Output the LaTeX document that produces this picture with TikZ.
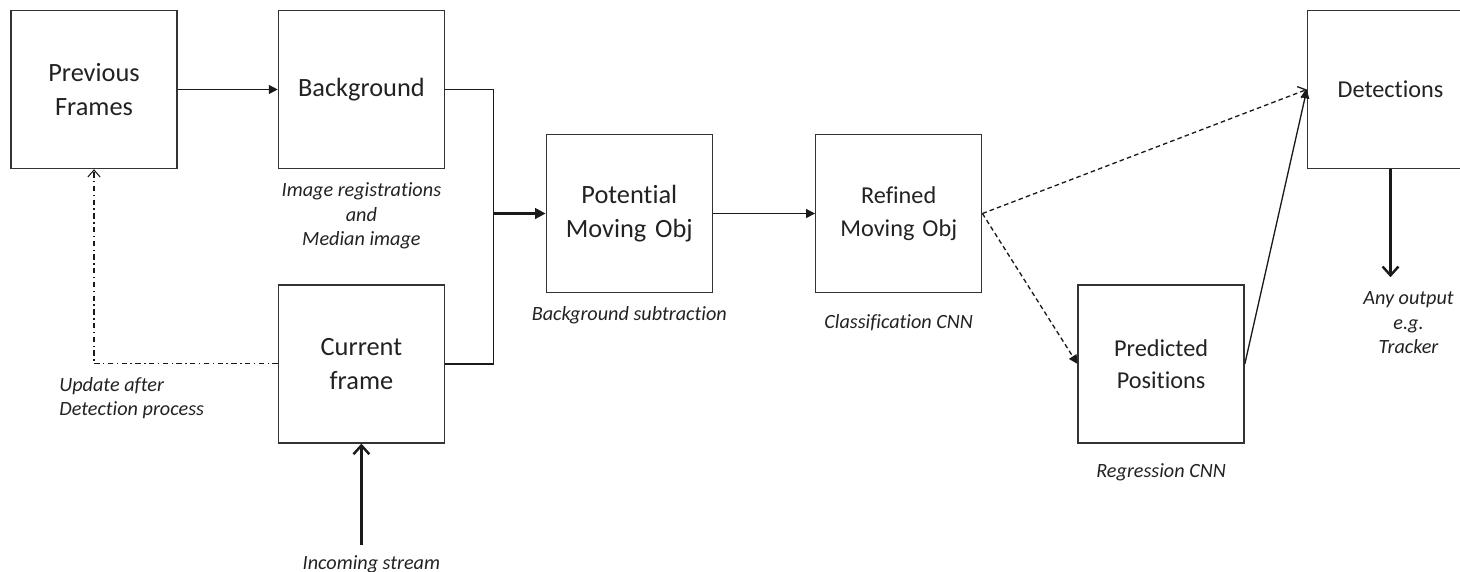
\documentclass[tikz,border=0pt]{standalone}
\usepackage{fontspec}
\setmainfont{Carlito}[Ligatures=NoCommon]
\usepackage{tikz}
\usetikzlibrary{arrows.meta, positioning, calc}
\definecolor{BoxGrey}{HTML}{333333}
\definecolor{LineGrey}{HTML}{1A1A1A}
\definecolor{TextGrey}{HTML}{222222}
\tikzset{
  % Processing block
  block/.style={
    rectangle, draw=BoxGrey, line width=0.8pt,
    minimum width=3.32cm, minimum height=3.16cm,
    text width=3.1cm, align=center, inner sep=0pt,
    text=TextGrey, font=\fontsize{15}{19.4}\selectfont
  },
  % Block with a smaller label
  blocksmall/.style={
    block, font=\fontsize{13.8}{18.4}\selectfont
  },
  % Italic note under a block
  subnote/.style={
    inner sep=0pt, align=center, text=TextGrey,
    font=\fontsize{11.5}{14}\selectfont\itshape
  },
  % Plain connector
  arrow/.style={
    -{Triangle[length=5pt,width=5pt]}, line width=0.75pt, draw=LineGrey
  },
  % Heavy connector
  heavyarrow/.style={
    -{Triangle[length=6pt,width=6pt]}, line width=1.4pt, draw=LineGrey
  },
  % Heavy open-headed connector
  openarrow/.style={
    -{Straight Barb[length=5pt,width=9pt]}, line width=1.4pt, draw=LineGrey
  },
  % Dashed connector
  dasharrow/.style={
    line width=0.75pt, draw=LineGrey,
    dash pattern=on 2.6pt off 1.8pt
  },
  % Feedback connector
  feedback/.style={
    -{Straight Barb[length=4pt,width=7pt]}, line width=0.6pt, draw=LineGrey,
    dash pattern=on 3pt off 2pt on 0.8pt off 2pt
  }
}

\begin{document}
\begin{tikzpicture}
\clip (0,0) rectangle (29.2,-11.44);

\node[block] (prev) at (1.88,-1.79) {Previous\\Frames};
\node[block, right=2cm of prev] (bg) {Background};
\node[subnote, below=0.26cm of bg] (bg_note)
  {Image registrations\\and\\Median image};

\node[block, below=2.3cm of bg] (cur) {Current\\frame};
\coordinate[below=2.02cm of cur.south] (stream_in);
\node[subnote, anchor=north] (stream_note)
  at ($(stream_in)+(0.2,-0.22)$) {Incoming stream};

% ── merge of background and current frame ───────────────────
\coordinate (merge) at ($(bg.east)!0.452!(cur.east)+(0.97,0)$);

\node[block, right=1.04cm of merge] (pot) {Potential\\Moving Obj};
\node[subnote, below=0.26cm of pot] (pot_note) {Background subtraction};

\node[blocksmall, right=2.04cm of pot] (ref) {Refined\\Moving Obj};
\node[subnote, below=0.42cm of ref] (ref_note) {Classification CNN};

\node[blocksmall, anchor=west] (pred)
  at ($(ref.east |- cur.west)+(1.9,0)$) {Predicted\\Positions};
\node[subnote, below=0.4cm of pred] (pred_note) {Regression CNN};

\node[blocksmall, anchor=west] (det)
  at ($(pred.east |- bg.east)+(1.24,0)$) {Detections};
\coordinate[below=2.16cm of det.south] (det_out);
\node[subnote, anchor=north] (det_note)
  at ($(det.south)+(0.36,-2.44)$) {Any output\\e.g.\\Tracker};

\node[subnote, anchor=north west, align=left] (upd_note)
  at ($(prev.south |- cur.west)+(-0.7,-0.26)$)
  {Update after\\Detection process};

\draw[arrow] (prev) -- (bg);
\draw[line width=0.75pt, draw=LineGrey] (bg.east) -| (merge);
\draw[line width=0.75pt, draw=LineGrey] (cur.east) -| (merge);
\draw[heavyarrow] (merge) -- (pot);
\draw[arrow] (pot) -- (ref);
\draw[dasharrow, -{Straight Barb[length=4pt,width=7pt]}] (ref.east) -- (det.west);
\draw[dasharrow, -{Triangle[length=5pt,width=5pt]}] (ref.east) -- (pred.west);
\draw[arrow] (pred.east) -- (det.west);
\draw[openarrow] (det.south) -- (det_out);
\draw[openarrow] (stream_in) -- (cur.south);
\draw[feedback] (cur.west) -| (prev.south);

\end{tikzpicture}
\end{document}
